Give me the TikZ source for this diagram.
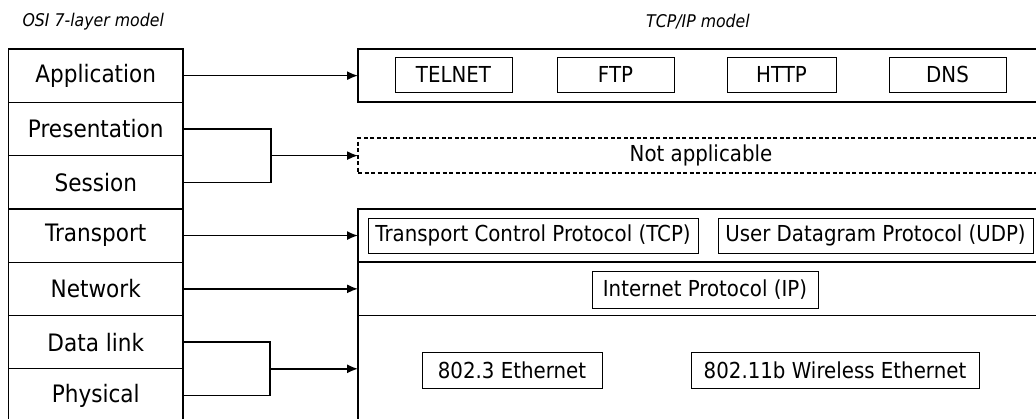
\documentclass[tikz,border=0pt]{standalone}
\usepackage{fontspec}
\setmainfont{DejaVu Sans}[FakeStretch=0.9]
\usetikzlibrary{arrows.meta}
\begin{document}
\begin{tikzpicture}[x=1pt,y=-1pt,
  line width=1.2pt,
  osibox/.style={draw,rectangle,inner sep=0pt,outer sep=0pt,minimum width=174.5pt,minimum height=53.3pt,font=\fontsize{24}{28}\selectfont},
  layer/.style={draw,rectangle,inner sep=0pt,outer sep=0pt,minimum width=686pt},
  proto/.style={draw,rectangle,inner sep=0pt,outer sep=0pt,line width=1pt,minimum height=35pt,font=\fontsize{22}{26}\selectfont},
  title/.style={font=\itshape\fontsize{17.5}{21}\selectfont,inner sep=0pt},
  conn/.style={-{Latex[length=11pt,width=9pt]},line width=1.5pt},
  plain/.style={line width=1.5pt}]
\clip (0,0) rectangle (1036,418);
\fill[white] (0,0) rectangle (1036,418);

% titles
\node[title,anchor=west] (osititle) at (22,22) {OSI 7-layer model};
\node[title] (tcptitle) at (698,22) {TCP/IP model};

% OSI layers
\node[osibox] (app)  at (95.75,75.65)  {Application};
\node[osibox] (pres) at (95.75,128.95) {Presentation};
\node[osibox] (sess) at (95.75,182.25) {Session};
\node[osibox] (trans) at (95.75,235.55) {Transport};
\node[osibox] (net)  at (95.75,288.85) {Network};
\node[osibox] (dl)   at (95.75,342.15) {Data link};
\node[osibox] (phy)  at (95.75,395.45) {Physical};

% TCP/IP layers
\node[layer,minimum height=53pt] (tapp) at (701,75.5) {};
\node[layer,minimum height=35pt,dashed,dash pattern=on 4pt off 2.5pt,
      font=\fontsize{22}{26}\selectfont] (na) at (701,155.5) {Not applicable};
\node[layer,minimum height=53pt] (ttrans) at (701,235.5) {};
\node[layer,minimum height=53.3pt] (tnet) at (701,288.8) {};
\node[layer,minimum height=120pt] (tlink) at (701,375.5) {};

% protocol boxes
\node[proto,minimum width=117pt] (telnet) at (453.5,74.5) {TELNET};
\node[proto,minimum width=117pt] (ftp)    at (615.5,74.5) {FTP};
\node[proto,minimum width=109pt] (http)   at (781.5,74.5) {HTTP};
\node[proto,minimum width=117pt] (dns)    at (947.5,74.5) {DNS};
\node[proto,minimum width=330pt] (tcp)    at (533,235.5) {Transport Control Protocol (TCP)};
\node[proto,minimum width=315pt] (udp)    at (875.5,235.5) {User Datagram Protocol (UDP)};
\node[proto,minimum width=226pt,minimum height=37pt] (ip) at (705,289.5) {Internet Protocol (IP)};
\node[proto,minimum width=180pt,minimum height=36pt] (eth) at (512,370) {802.3 Ethernet};
\node[proto,minimum width=288pt,minimum height=36pt] (wifi) at (835,370) {802.11b Wireless Ethernet};

% junctions
\coordinate (j1) at (271,155.6);
\coordinate (j2) at (270,368.8);

% connectors
\draw[conn] (app.east) -- (tapp.west |- app.east);
\draw[plain] (pres.east) -| (j1);
\draw[plain] (sess.east) -| (j1);
\draw[conn] (j1) -- (na.west |- j1);
\draw[conn] (trans.east) -- (ttrans.west |- trans.east);
\draw[conn] (net.east) -- (tnet.west |- net.east);
\draw[plain] (dl.east) -| (j2);
\draw[plain] (phy.east) -| (j2);
\draw[conn] (j2) -- (tlink.west |- j2);
\end{tikzpicture}
\end{document}
